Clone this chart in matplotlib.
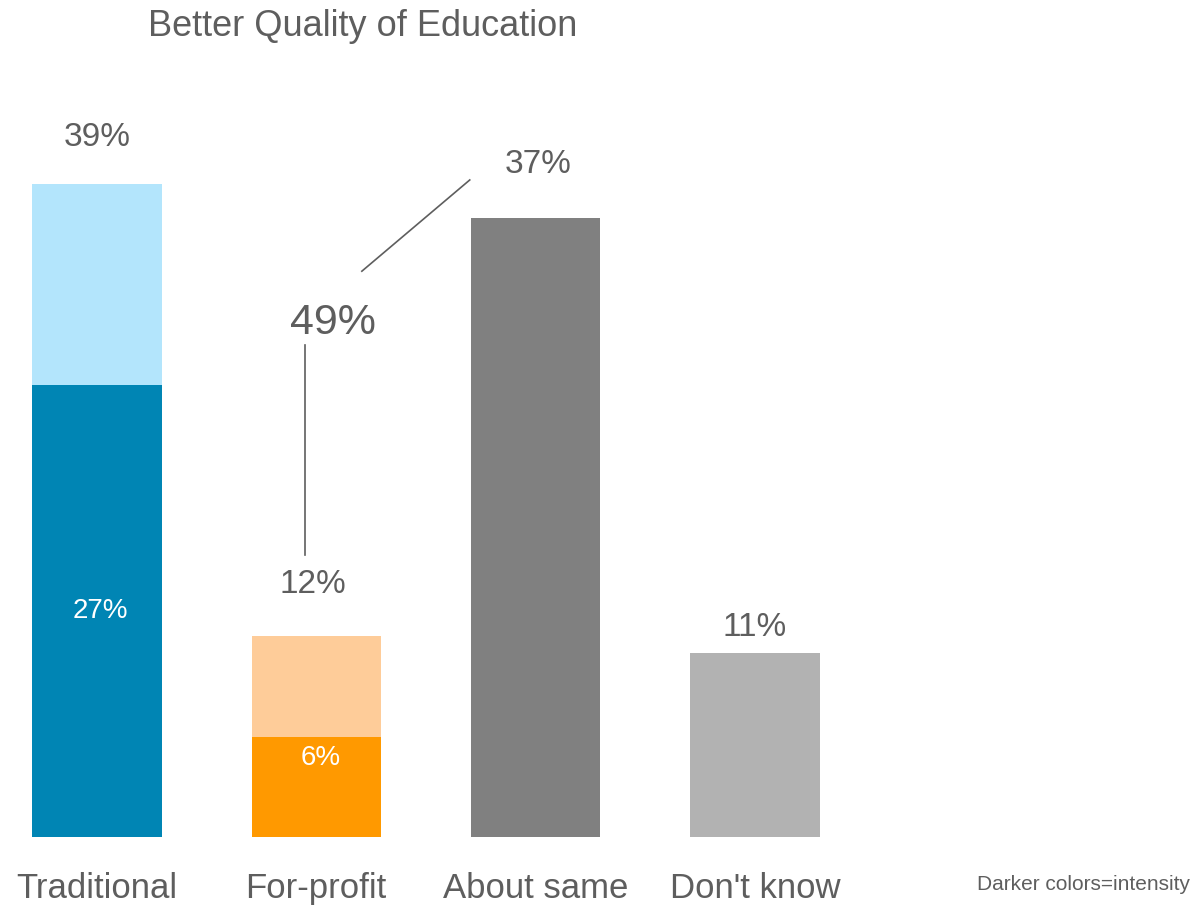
import matplotlib
matplotlib.use('Agg')
import matplotlib.pyplot as plt

categories = ['Traditional', 'For-profit', 'About same', "Don't know"]
totals = [39, 12, 37, 11]
intense = [27, 6, None, None]
total_labels = ['39%', '12%', '37%', '11%']
intense_labels = ['27%', '6%']
light_colors = ['#b3e5fc', '#fecc99', '#808080', '#b2b2b2']
dark_colors = ['#0085b4', '#ff9900']
txt = '#5e5e5e'
narrow = ['Liberation Sans Narrow', 'Liberation Sans', 'DejaVu Sans']

fig = plt.figure(figsize=(11.95, 9.07), dpi=100)
ax = fig.add_axes([0, 0, 1, 1])
ax.set_xlim(-0.442, 5.007)
ax.set_ylim(-4.18, 50.0)
ax.axis('off')

x = list(range(len(categories)))
w = 0.59
ax.bar(x, totals, width=w, color=light_colors)
ax.bar(x[:2], intense[:2], width=w, color=dark_colors)

# total labels above bars
lab_pos = [(0, 41.8), (0.985, 15.1), (2.01, 40.2), (3.0, 12.5)]
for (px, py), t in zip(lab_pos, total_labels):
    ax.text(px, py, t, ha='center', va='center', fontsize=24, color=txt,
            family='Liberation Sans')
# white labels inside dark parts
for (px, py), t in zip([(0.015, 13.5), (1.02, 4.7)], intense_labels):
    ax.text(px, py, t, ha='center', va='center', fontsize=20, color='white',
            family='Liberation Sans')

# combined for-profit callout
ax.text(1.076, 30.7, '49%', ha='center', va='center', fontsize=31, color=txt,
        family='Liberation Sans')
ax.plot([0.948, 0.948], [29.4, 16.85], color=txt, lw=1.2)
ax.plot([1.208, 1.70], [33.8, 39.25], color=txt, lw=1.2)

for xi, c in zip(x, categories):
    ax.text(xi, -3.05, c, ha='center', va='center', fontsize=25, color=txt,
            family=narrow)

fig.text(148 / 1195, 1 - 27 / 907, 'Better Quality of Education', ha='left',
         va='center', fontsize=26, color=txt, family='Liberation Sans')
fig.text(1190 / 1195, 1 - 885 / 907, 'Darker colors=intensity', ha='right',
         va='center', fontsize=15, color=txt, family=narrow)

fig.savefig('out.png', dpi=100)
